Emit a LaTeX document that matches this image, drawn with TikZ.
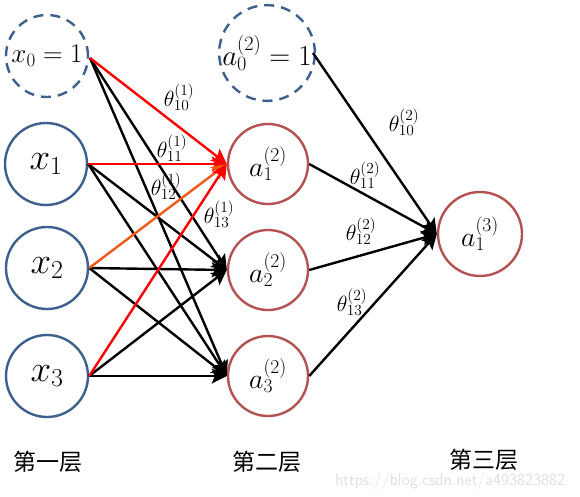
\RequirePackage{fix-cm}
\documentclass[tikz,border=0pt]{standalone}
\usepackage{fontspec}
\newfontfamily\cjk{Noto Sans CJK SC}
\usetikzlibrary{arrows.meta}
\definecolor{nblue}{RGB}{62,96,140}
\definecolor{nred}{RGB}{180,82,82}
\definecolor{norange}{RGB}{240,90,20}
\definecolor{nredline}{RGB}{255,0,0}
\tikzset{
  inode/.style={circle,draw=nblue,line width=2.4pt,minimum size=82pt,inner sep=0pt,font=\fontsize{37}{40}\selectfont},
  bnode/.style={inode,dash pattern=on 10pt off 7pt,font=\fontsize{27}{30}\selectfont},
  hnode/.style={circle,draw=nred,line width=2.4pt,minimum size=80pt,inner sep=0pt,font=\fontsize{28}{32}\selectfont},
  hbias/.style={hnode,draw=nblue,dash pattern=on 10pt off 7pt,minimum size=90pt,font=\fontsize{29}{32}\selectfont},
  conn/.style={line width=2.4pt,-{Stealth[length=15pt,width=15pt,inset=3pt]}},
  wlab/.style={font=\fontsize{22}{24}\selectfont,inner sep=0pt},
  layer/.style={font=\cjk\fontsize{23}{26}\selectfont,inner sep=0pt}
}
\begin{document}
\begin{tikzpicture}[x=1pt,y=-1pt]
\useasboundingbox (0,0) rectangle (580,496);
% layer 1
\node[bnode] (x0) at (47,56) {$x_0=1$};
\node[inode] (x1) at (46,164) {$x_1$};
\node[inode] (x2) at (47,268) {$x_2$};
\node[inode] (x3) at (47,376) {$x_3$};
% layer 2
\node[hbias] (a0) at (267,53) {$a_0^{(2)}=1$};
\node[hnode] (a1) at (268,164) {$a_1^{(2)}$};
\node[hnode] (a2) at (268,270) {$a_2^{(2)}$};
\node[hnode] (a3) at (268,376) {$a_3^{(2)}$};
% layer 3
\node[hnode,minimum size=84pt] (o) at (480,234) {$a_1^{(3)}$};
% anchor points
\coordinate (s0) at (90,58);
\coordinate (s0b) at (313,53);
% black connectors layer 1 -> 2
\draw[conn] (s0) -- (a2.west);
\draw[conn] (s0) -- (a3.west);
\draw[conn] (x1.east) -- (a2.west);
\draw[conn] (x1.east) -- (a3.west);
\draw[conn] (x2.east) -- (a2.west);
\draw[conn] (x2.east) -- (a3.west);
\draw[conn] (x3.east) -- (a2.west);
\draw[conn] (x3.east) -- (a3.west);
% coloured connectors to a1
\draw[conn,nredline] (s0) -- (a1.west);
\draw[conn,nredline] (x1.east) -- (a1.west);
\draw[conn,norange] (x2.east) -- (a1.west);
\draw[conn,nredline] (x3.east) -- (a1.west);
% layer 2 -> 3
\draw[conn] (s0b) -- (o.west);
\draw[conn] (a1.east) -- (o.west);
\draw[conn] (a2.east) -- (o.west);
\draw[conn] (a3.east) -- (o.west);
% weight labels
\node[wlab] (t10a) at (179,97) {$\theta_{10}^{(1)}$};
\node[wlab] (t11a) at (172,148) {$\theta_{11}^{(1)}$};
\node[wlab] (t12a) at (166,186) {$\theta_{12}^{(1)}$};
\node[wlab] (t13a) at (219,214) {$\theta_{13}^{(1)}$};
\node[wlab] (t10b) at (404,122) {$\theta_{10}^{(2)}$};
\node[wlab] (t11b) at (365,175) {$\theta_{11}^{(2)}$};
\node[wlab] (t12b) at (361,231) {$\theta_{12}^{(2)}$};
\node[wlab] (t13b) at (352,302) {$\theta_{13}^{(2)}$};
% layer labels
\node[layer] (l1) at (48,462) {第一层};
\node[layer] (l2) at (267,462) {第二层};
\node[layer] (l3) at (484,460) {第三层};
\node[font=\sffamily\fontsize{17}{19}\selectfont,text=black!12,inner sep=0pt,anchor=west] (wm) at (335,481) {https://blog.csdn.net/a493823882};
\end{tikzpicture}
\end{document}
